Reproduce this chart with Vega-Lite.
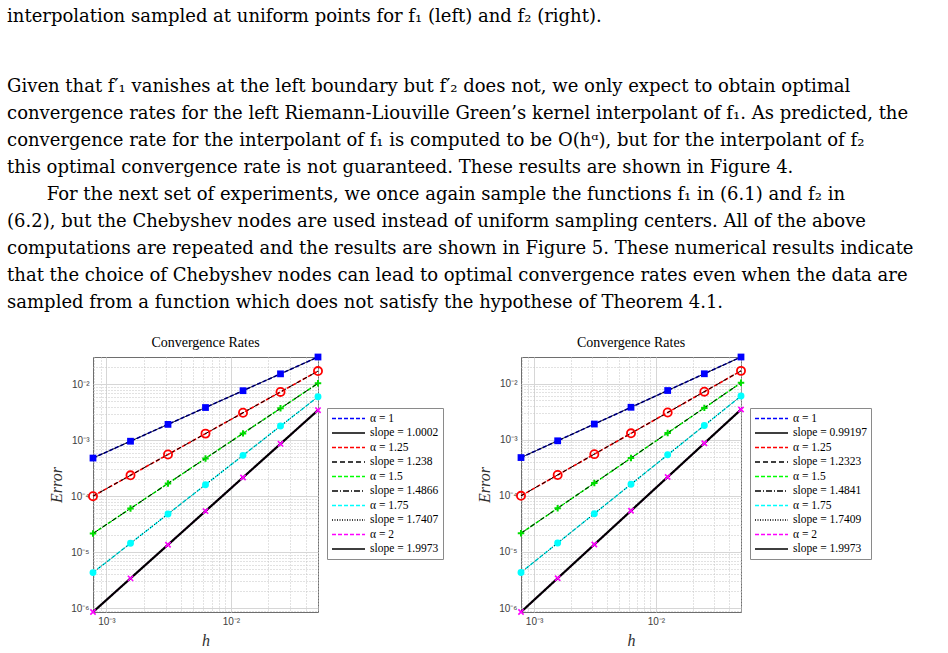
{
  "$schema": "https://vega.github.io/schema/vega-lite/v6.json",
  "padding": {"left": 7, "top": 8, "right": 0, "bottom": 0},
  "background": "white",
  "title": {
    "text": "interpolation sampled at uniform points for f₁ (left) and f₂ (right).",
    "subtitle": [
      "Given that f′₁ vanishes at the left boundary but f′₂ does not, we only expect to obtain optimal",
      "convergence rates for the left Riemann-Liouville Green’s kernel interpolant of f₁. As predicted, the",
      "convergence rate for the interpolant of f₁ is computed to be O(hᵅ), but for the interpolant of f₂",
      "this optimal convergence rate is not guaranteed. These results are shown in Figure 4.",
      "\u2800\u2800\u2800For the next set of experiments, we once again sample the functions f₁ in (6.1) and f₂ in",
      "(6.2), but the Chebyshev nodes are used instead of uniform sampling centers. All of the above",
      "computations are repeated and the results are shown in Figure 5. These numerical results indicate",
      "that the choice of Chebyshev nodes can lead to optimal convergence rates even when the data are",
      "sampled from a function which does not satisfy the hypothese of Theorem 4.1."
    ],
    "anchor": "start",
    "frame": "bounds",
    "dx": -41,
    "font": "DejaVu Serif",
    "fontSize": 18,
    "fontWeight": "normal",
    "color": "#000",
    "lineHeight": 27,
    "subtitleFont": "DejaVu Serif",
    "subtitleFontSize": 18,
    "subtitleColor": "#000",
    "subtitleLineHeight": 27,
    "subtitlePadding": 52,
    "offset": 23
  },
  "data": {"values": [
    {"p":"L","k":"d","s":"α = 1","h":0.00078125,"e":0.00048},
    {"p":"L","k":"d","s":"α = 1","h":0.0015625,"e":0.0009601},
    {"p":"L","k":"d","s":"α = 1","h":0.003125,"e":0.0019205},
    {"p":"L","k":"d","s":"α = 1","h":0.00625,"e":0.0038416},
    {"p":"L","k":"d","s":"α = 1","h":0.0125,"e":0.007684},
    {"p":"L","k":"d","s":"α = 1","h":0.025,"e":0.01537},
    {"p":"L","k":"d","s":"α = 1","h":0.05,"e":0.03075},
    {"p":"L","k":"d","s":"α = 1.25","h":0.00078125,"e":0.0001},
    {"p":"L","k":"d","s":"α = 1.25","h":0.0015625,"e":0.0002359},
    {"p":"L","k":"d","s":"α = 1.25","h":0.003125,"e":0.0005564},
    {"p":"L","k":"d","s":"α = 1.25","h":0.00625,"e":0.0013125},
    {"p":"L","k":"d","s":"α = 1.25","h":0.0125,"e":0.003096},
    {"p":"L","k":"d","s":"α = 1.25","h":0.025,"e":0.007303},
    {"p":"L","k":"d","s":"α = 1.25","h":0.05,"e":0.01723},
    {"p":"L","k":"d","s":"α = 1.5","h":0.00078125,"e":0.0000215},
    {"p":"L","k":"d","s":"α = 1.5","h":0.0015625,"e":0.00006025},
    {"p":"L","k":"d","s":"α = 1.5","h":0.003125,"e":0.0001688},
    {"p":"L","k":"d","s":"α = 1.5","h":0.00625,"e":0.0004731},
    {"p":"L","k":"d","s":"α = 1.5","h":0.0125,"e":0.0013257},
    {"p":"L","k":"d","s":"α = 1.5","h":0.025,"e":0.003715},
    {"p":"L","k":"d","s":"α = 1.5","h":0.05,"e":0.01041},
    {"p":"L","k":"d","s":"α = 1.75","h":0.00078125,"e":0.0000043},
    {"p":"L","k":"d","s":"α = 1.75","h":0.0015625,"e":0.00001437},
    {"p":"L","k":"d","s":"α = 1.75","h":0.003125,"e":0.00004802},
    {"p":"L","k":"d","s":"α = 1.75","h":0.00625,"e":0.0001605},
    {"p":"L","k":"d","s":"α = 1.75","h":0.0125,"e":0.0005363},
    {"p":"L","k":"d","s":"α = 1.75","h":0.025,"e":0.001792},
    {"p":"L","k":"d","s":"α = 1.75","h":0.05,"e":0.005988},
    {"p":"L","k":"d","s":"α = 2","h":0.00078125,"e":0.00000085},
    {"p":"L","k":"d","s":"α = 2","h":0.0015625,"e":0.000003394},
    {"p":"L","k":"d","s":"α = 2","h":0.003125,"e":0.00001355},
    {"p":"L","k":"d","s":"α = 2","h":0.00625,"e":0.0000541},
    {"p":"L","k":"d","s":"α = 2","h":0.0125,"e":0.000216},
    {"p":"L","k":"d","s":"α = 2","h":0.025,"e":0.0008624},
    {"p":"L","k":"d","s":"α = 2","h":0.05,"e":0.003443},
    {"p":"L","k":"f","s":"slope = 1.0002","h":0.00078125,"e":0.00048},
    {"p":"L","k":"f","s":"slope = 1.0002","h":0.05,"e":0.03075},
    {"p":"L","k":"f","s":"slope = 1.238","h":0.00078125,"e":0.0001},
    {"p":"L","k":"f","s":"slope = 1.238","h":0.05,"e":0.01723},
    {"p":"L","k":"f","s":"slope = 1.4866","h":0.00078125,"e":0.0000215},
    {"p":"L","k":"f","s":"slope = 1.4866","h":0.05,"e":0.01041},
    {"p":"L","k":"f","s":"slope = 1.7407","h":0.00078125,"e":0.0000043},
    {"p":"L","k":"f","s":"slope = 1.7407","h":0.05,"e":0.005988},
    {"p":"L","k":"f","s":"slope = 1.9973","h":0.00078125,"e":0.00000085},
    {"p":"L","k":"f","s":"slope = 1.9973","h":0.05,"e":0.003443},
    {"p":"R","k":"d","s":"α = 1","h":0.00078125,"e":0.00048},
    {"p":"R","k":"d","s":"α = 1","h":0.0015625,"e":0.0009547},
    {"p":"R","k":"d","s":"α = 1","h":0.003125,"e":0.0018987},
    {"p":"R","k":"d","s":"α = 1","h":0.00625,"e":0.003776},
    {"p":"R","k":"d","s":"α = 1","h":0.0125,"e":0.00751},
    {"p":"R","k":"d","s":"α = 1","h":0.025,"e":0.014937},
    {"p":"R","k":"d","s":"α = 1","h":0.05,"e":0.02971},
    {"p":"R","k":"d","s":"α = 1.25","h":0.00078125,"e":0.0001},
    {"p":"R","k":"d","s":"α = 1.25","h":0.0015625,"e":0.0002349},
    {"p":"R","k":"d","s":"α = 1.25","h":0.003125,"e":0.000552},
    {"p":"R","k":"d","s":"α = 1.25","h":0.00625,"e":0.001297},
    {"p":"R","k":"d","s":"α = 1.25","h":0.0125,"e":0.003047},
    {"p":"R","k":"d","s":"α = 1.25","h":0.025,"e":0.007158},
    {"p":"R","k":"d","s":"α = 1.25","h":0.05,"e":0.01682},
    {"p":"R","k":"d","s":"α = 1.5","h":0.00078125,"e":0.0000215},
    {"p":"R","k":"d","s":"α = 1.5","h":0.0015625,"e":0.00006015},
    {"p":"R","k":"d","s":"α = 1.5","h":0.003125,"e":0.0001683},
    {"p":"R","k":"d","s":"α = 1.5","h":0.00625,"e":0.0004707},
    {"p":"R","k":"d","s":"α = 1.5","h":0.0125,"e":0.001317},
    {"p":"R","k":"d","s":"α = 1.5","h":0.025,"e":0.003684},
    {"p":"R","k":"d","s":"α = 1.5","h":0.05,"e":0.01031},
    {"p":"R","k":"d","s":"α = 1.75","h":0.00078125,"e":0.0000043},
    {"p":"R","k":"d","s":"α = 1.75","h":0.0015625,"e":0.00001437},
    {"p":"R","k":"d","s":"α = 1.75","h":0.003125,"e":0.00004804},
    {"p":"R","k":"d","s":"α = 1.75","h":0.00625,"e":0.0001606},
    {"p":"R","k":"d","s":"α = 1.75","h":0.0125,"e":0.0005368},
    {"p":"R","k":"d","s":"α = 1.75","h":0.025,"e":0.001794},
    {"p":"R","k":"d","s":"α = 1.75","h":0.05,"e":0.005997},
    {"p":"R","k":"d","s":"α = 2","h":0.00078125,"e":0.00000085},
    {"p":"R","k":"d","s":"α = 2","h":0.0015625,"e":0.000003394},
    {"p":"R","k":"d","s":"α = 2","h":0.003125,"e":0.00001355},
    {"p":"R","k":"d","s":"α = 2","h":0.00625,"e":0.0000541},
    {"p":"R","k":"d","s":"α = 2","h":0.0125,"e":0.000216},
    {"p":"R","k":"d","s":"α = 2","h":0.025,"e":0.0008624},
    {"p":"R","k":"d","s":"α = 2","h":0.05,"e":0.003443},
    {"p":"R","k":"f","s":"slope = 0.99197","h":0.00078125,"e":0.00048},
    {"p":"R","k":"f","s":"slope = 0.99197","h":0.05,"e":0.02971},
    {"p":"R","k":"f","s":"slope = 1.2323","h":0.00078125,"e":0.0001},
    {"p":"R","k":"f","s":"slope = 1.2323","h":0.05,"e":0.01682},
    {"p":"R","k":"f","s":"slope = 1.4841","h":0.00078125,"e":0.0000215},
    {"p":"R","k":"f","s":"slope = 1.4841","h":0.05,"e":0.01031},
    {"p":"R","k":"f","s":"slope = 1.7409","h":0.00078125,"e":0.0000043},
    {"p":"R","k":"f","s":"slope = 1.7409","h":0.05,"e":0.005997},
    {"p":"R","k":"f","s":"slope = 1.9973","h":0.00078125,"e":0.00000085},
    {"p":"R","k":"f","s":"slope = 1.9973","h":0.05,"e":0.003443}
  ]},
  "spacing": 32,
  "resolve": {"scale": {"color": "independent", "strokeDash": "independent", "y": "independent", "x": "independent"}, "legend": {"color": "independent", "strokeDash": "independent"}},
  "hconcat": [
    {
      "width": 225, "height": 255,
      "title": {"text": "Convergence Rates", "font": "Liberation Serif", "fontSize": 14, "fontWeight": "normal", "color": "#000", "offset": 4},
      "transform": [{"filter": "datum.p == 'L'"}],
      "encoding": {
        "x": {"field": "h", "type": "quantitative", "scale": {"type": "log", "domain": [0.00078125, 0.05], "nice": false},
          "axis": {"title": "h", "values": [0.0008,0.0009,0.001,0.002,0.003,0.004,0.005,0.006,0.007,0.008,0.009,0.01,0.02,0.03,0.04,0.05],
            "labelExpr": "datum.value == 0.001 ? '10⁻³' : datum.value == 0.01 ? '10⁻²' : ''",
            "gridColor": {"condition": {"test": "datum.value == 0.001 || datum.value == 0.01", "value": "#d6d6d6"}, "value": "#c4c4c4"},
            "gridDash": {"condition": {"test": "datum.value == 0.001 || datum.value == 0.01", "value": []}, "value": [1, 2]}}},
        "y": {"field": "e", "type": "quantitative", "scale": {"type": "log", "domain": [0.00000085, 0.03075], "nice": false},
          "axis": {"title": "Error", "values": [0.0000009,0.000001,0.000002,0.000003,0.000004,0.000005,0.000006,0.000007,0.000008,0.000009,0.00001,0.00002,0.00003,0.00004,0.00005,0.00006,0.00007,0.00008,0.00009,0.0001,0.0002,0.0003,0.0004,0.0005,0.0006,0.0007,0.0008,0.0009,0.001,0.002,0.003,0.004,0.005,0.006,0.007,0.008,0.009,0.01,0.02],
            "labelExpr": "datum.value == 0.000001 ? '10⁻⁶' : datum.value == 0.00001 ? '10⁻⁵' : datum.value == 0.0001 ? '10⁻⁴' : datum.value == 0.001 ? '10⁻³' : datum.value == 0.01 ? '10⁻²' : ''",
            "gridColor": {"condition": {"test": "indexof([0.000001,0.00001,0.0001,0.001,0.01], datum.value) >= 0", "value": "#d6d6d6"}, "value": "#c4c4c4"},
            "gridDash": {"condition": {"test": "indexof([0.000001,0.00001,0.0001,0.001,0.01], datum.value) >= 0", "value": []}, "value": [1, 2]}}}
      },
      "layer": [
        {
          "transform": [{"filter": "datum.k == 'd'"}],
          "mark": {"type": "line", "strokeCap": "butt", "strokeWidth": 1.6},
          "encoding": {
            "color": {"field": "s", "type": "nominal",
              "scale": {"domain": ["α = 1","slope = 1.0002","α = 1.25","slope = 1.238","α = 1.5","slope = 1.4866","α = 1.75","slope = 1.7407","α = 2","slope = 1.9973"],
                "range": ["#0000ff","#000000","#ff0000","#000000","#00ff00","#000000","#00ffff","#000000","#ff00ff","#000000"]},
              "legend": {"orient": "none", "legendX": 234, "legendY": 51, "title": null}},
            "strokeDash": {"field": "s", "type": "nominal",
              "scale": {"domain": ["α = 1","slope = 1.0002","α = 1.25","slope = 1.238","α = 1.5","slope = 1.4866","α = 1.75","slope = 1.7407","α = 2","slope = 1.9973"],
                "range": [[4,2],[1,0],[4,2],[5,3],[4,2],[6,2,1,2],[4,2],[1,1.5],[4,2],[1,0]]},
              "legend": {"orient": "none", "legendX": 234, "legendY": 51, "title": null}}
          }
        },
        {
          "transform": [{"filter": "datum.k == 'f' && datum.s != 'slope = 1.9973'"}],
          "mark": {"type": "line", "strokeCap": "butt", "strokeWidth": 1},
          "encoding": {
            "color": {"field": "s", "type": "nominal"},
            "strokeDash": {"field": "s", "type": "nominal"}
          }
        },
        {
          "transform": [{"filter": "datum.k == 'f' && datum.s == 'slope = 1.9973'"}],
          "mark": {"type": "line", "strokeCap": "butt", "strokeWidth": 2.2},
          "encoding": {
            "color": {"field": "s", "type": "nominal"},
            "strokeDash": {"field": "s", "type": "nominal"}
          }
        },
        {"transform": [{"filter": "datum.s == 'α = 1'"}], "mark": {"type": "point", "shape": "square", "filled": true, "color": "#0000ff", "size": 46, "opacity": 1}},
        {"transform": [{"filter": "datum.s == 'α = 1.25'"}], "mark": {"type": "point", "shape": "circle", "filled": false, "color": "#ff0000", "size": 66, "strokeWidth": 1.8, "opacity": 1}},
        {"transform": [{"filter": "datum.s == 'α = 1.5'"}], "mark": {"type": "point", "shape": "M-1,0H1M0,-1V1", "filled": false, "color": "#00dd00", "size": 42, "strokeWidth": 2, "opacity": 1}},
        {"transform": [{"filter": "datum.s == 'α = 1.75'"}], "mark": {"type": "point", "shape": "circle", "filled": true, "color": "#00ffff", "size": 48, "opacity": 1}},
        {"transform": [{"filter": "datum.s == 'α = 2'"}], "mark": {"type": "point", "shape": "M-1,-1L1,1M-1,1L1,-1", "filled": false, "color": "#ff00ff", "size": 28, "strokeWidth": 1.6, "opacity": 1}}
      ]
    },
    {
      "width": 220, "height": 255,
      "title": {"text": "Convergence Rates", "font": "Liberation Serif", "fontSize": 14, "fontWeight": "normal", "color": "#000", "offset": 4},
      "transform": [{"filter": "datum.p == 'R'"}],
      "encoding": {
        "x": {"field": "h", "type": "quantitative", "scale": {"type": "log", "domain": [0.00078125, 0.05], "nice": false},
          "axis": {"title": "h", "values": [0.0008,0.0009,0.001,0.002,0.003,0.004,0.005,0.006,0.007,0.008,0.009,0.01,0.02,0.03,0.04,0.05],
            "labelExpr": "datum.value == 0.001 ? '10⁻³' : datum.value == 0.01 ? '10⁻²' : ''",
            "gridColor": {"condition": {"test": "datum.value == 0.001 || datum.value == 0.01", "value": "#d6d6d6"}, "value": "#c4c4c4"},
            "gridDash": {"condition": {"test": "datum.value == 0.001 || datum.value == 0.01", "value": []}, "value": [1, 2]}}},
        "y": {"field": "e", "type": "quantitative", "scale": {"type": "log", "domain": [0.00000085, 0.02971], "nice": false},
          "axis": {"title": "Error", "values": [0.0000009,0.000001,0.000002,0.000003,0.000004,0.000005,0.000006,0.000007,0.000008,0.000009,0.00001,0.00002,0.00003,0.00004,0.00005,0.00006,0.00007,0.00008,0.00009,0.0001,0.0002,0.0003,0.0004,0.0005,0.0006,0.0007,0.0008,0.0009,0.001,0.002,0.003,0.004,0.005,0.006,0.007,0.008,0.009,0.01,0.02],
            "labelExpr": "datum.value == 0.000001 ? '10⁻⁶' : datum.value == 0.00001 ? '10⁻⁵' : datum.value == 0.0001 ? '10⁻⁴' : datum.value == 0.001 ? '10⁻³' : datum.value == 0.01 ? '10⁻²' : ''",
            "gridColor": {"condition": {"test": "indexof([0.000001,0.00001,0.0001,0.001,0.01], datum.value) >= 0", "value": "#d6d6d6"}, "value": "#c4c4c4"},
            "gridDash": {"condition": {"test": "indexof([0.000001,0.00001,0.0001,0.001,0.01], datum.value) >= 0", "value": []}, "value": [1, 2]}}}
      },
      "layer": [
        {
          "transform": [{"filter": "datum.k == 'd'"}],
          "mark": {"type": "line", "strokeCap": "butt", "strokeWidth": 1.6},
          "encoding": {
            "color": {"field": "s", "type": "nominal",
              "scale": {"domain": ["α = 1","slope = 0.99197","α = 1.25","slope = 1.2323","α = 1.5","slope = 1.4841","α = 1.75","slope = 1.7409","α = 2","slope = 1.9973"],
                "range": ["#0000ff","#000000","#ff0000","#000000","#00ff00","#000000","#00ffff","#000000","#ff00ff","#000000"]},
              "legend": {"orient": "none", "legendX": 229, "legendY": 51, "title": null}},
            "strokeDash": {"field": "s", "type": "nominal",
              "scale": {"domain": ["α = 1","slope = 0.99197","α = 1.25","slope = 1.2323","α = 1.5","slope = 1.4841","α = 1.75","slope = 1.7409","α = 2","slope = 1.9973"],
                "range": [[4,2],[1,0],[4,2],[5,3],[4,2],[6,2,1,2],[4,2],[1,1.5],[4,2],[1,0]]},
              "legend": {"orient": "none", "legendX": 229, "legendY": 51, "title": null}}
          }
        },
        {
          "transform": [{"filter": "datum.k == 'f' && datum.s != 'slope = 1.9973'"}],
          "mark": {"type": "line", "strokeCap": "butt", "strokeWidth": 1},
          "encoding": {
            "color": {"field": "s", "type": "nominal"},
            "strokeDash": {"field": "s", "type": "nominal"}
          }
        },
        {
          "transform": [{"filter": "datum.k == 'f' && datum.s == 'slope = 1.9973'"}],
          "mark": {"type": "line", "strokeCap": "butt", "strokeWidth": 2.2},
          "encoding": {
            "color": {"field": "s", "type": "nominal"},
            "strokeDash": {"field": "s", "type": "nominal"}
          }
        },
        {"transform": [{"filter": "datum.s == 'α = 1'"}], "mark": {"type": "point", "shape": "square", "filled": true, "color": "#0000ff", "size": 46, "opacity": 1}},
        {"transform": [{"filter": "datum.s == 'α = 1.25'"}], "mark": {"type": "point", "shape": "circle", "filled": false, "color": "#ff0000", "size": 66, "strokeWidth": 1.8, "opacity": 1}},
        {"transform": [{"filter": "datum.s == 'α = 1.5'"}], "mark": {"type": "point", "shape": "M-1,0H1M0,-1V1", "filled": false, "color": "#00dd00", "size": 42, "strokeWidth": 2, "opacity": 1}},
        {"transform": [{"filter": "datum.s == 'α = 1.75'"}], "mark": {"type": "point", "shape": "circle", "filled": true, "color": "#00ffff", "size": 48, "opacity": 1}},
        {"transform": [{"filter": "datum.s == 'α = 2'"}], "mark": {"type": "point", "shape": "M-1,-1L1,1M-1,1L1,-1", "filled": false, "color": "#ff00ff", "size": 28, "strokeWidth": 1.6, "opacity": 1}}
      ]
    }
  ],
  "config": {
    "view": {"stroke": "#6e6e6e", "strokeWidth": 1},
    "axis": {
      "grid": true, "ticks": false, "domain": false,
      "labelFont": "Liberation Sans", "labelFontSize": 10, "labelColor": "#404040",
      "labelPadding": 4, "labelOverlap": false, "labelFlush": false,
      "titleFont": "Liberation Serif", "titleFontStyle": "italic", "titleFontWeight": "normal", "titleFontSize": 16, "titleColor": "#303030"
    },
    "axisX": {"titlePadding": 6},
    "axisY": {"titlePadding": 6},
    "legend": {
      "symbolType": "M-1,0H5", "symbolSize": 121, "labelOffset": 26,
      "labelFont": "Liberation Serif", "labelFontSize": 11.5, "labelColor": "#000",
      "rowPadding": 2.5, "padding": 4, "strokeColor": "#8a8a8a", "fillColor": "#ffffff",
      "symbolOpacity": 1, "symbolStrokeWidth": 1.4
    }
  }
}
